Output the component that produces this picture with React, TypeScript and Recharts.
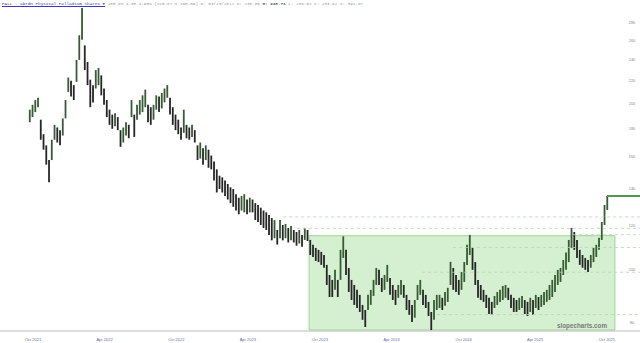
import { Bar, BarChart, Cell, ReferenceArea, ReferenceLine, XAxis, YAxis } from "recharts";

// weekly bars, week 0 = first week of Oct 2021
const FIRST_WEEK = -1;

const LOWS = [
  185, 189, 193, 197, 172, 165, 155, 144, 158, 172,
  170, 168, 175, 188, 210, 206, 203, 219, 240, 261,
  230, 216, 197, 201, 213, 216, 207, 199, 189, 183,
  180, 182, 179, 167, 170, 175, 173, 189, 174, 187,
  191, 193, 197, 185, 183, 187, 195, 193, 196, 201,
  205, 191, 183, 179, 176, 172, 177, 173, 172, 174,
  170, 158, 159, 155, 158, 153, 152, 145, 138, 140,
  138, 136, 134, 132, 130, 128, 126, 128, 127, 126,
  127, 127, 123, 122, 120.5, 119, 118, 115.6, 113, 114,
  111, 114, 113, 114, 112, 113, 112, 110.5, 111.5, 110,
  113.2, 112.7, 106.3, 105.4, 103.7, 103.2, 102, 100.8, 93.8, 89.2,
  89.2, 91.9, 89.2, 95.8, 105, 97.8, 91.1, 88.1, 86.3, 85.2,
  83.8, 81.1, 78.7, 84.5, 86.3, 89.6, 93.8, 93.8, 91.1, 91.9,
  95, 90, 88.1, 86.3, 88.9, 90, 88.9, 84.5, 82.8, 80.4,
  81.8, 88.1, 90, 86.3, 85.2, 82.4, 77.7, 81.1, 84.5, 85.2,
  84.5, 86, 87.4, 93.8, 91.9, 91.1, 90, 91.9, 95, 102,
  106.3, 99.9, 93.8, 88.9, 88.1, 87.4, 85.2, 83.1, 82.8, 85.2,
  86.3, 87.4, 88.1, 88.9, 88.1, 85.2, 83.8, 83.8, 84.5, 85.2,
  83.1, 82.4, 83.8, 82.8, 85.2, 84.5, 85.6, 86.3, 87.4, 88.1,
  89.2, 91.1, 93.8, 95, 97.8, 99.9, 103.2, 109.5, 108.6, 105,
  102, 100.8, 99.9, 99, 100.8, 103.2, 105.4, 108.6, 113.2, 120.5,
  128.3,
];

const HIGHS = [
  195, 199, 203, 205, 187, 176, 168, 158, 172, 183,
  181, 179, 188, 203, 223, 220, 216, 240, 266, 298,
  255, 238, 221, 216, 230, 232, 225, 213, 203, 195,
  191, 192, 189, 179, 181, 185, 183, 203, 191, 199,
  203, 207, 212, 199, 197, 199, 207, 206, 209, 213,
  216, 205, 197, 191, 187, 181, 195, 183, 181, 183,
  179, 168, 170, 166, 168, 165, 161, 157, 152, 148,
  147, 145, 143, 141, 140, 137, 135, 136, 137, 134,
  135, 134, 132, 131, 129.5, 128, 127, 125.6, 124, 123,
  118, 123, 120.5, 121, 119, 120, 118, 117, 118, 115.6,
  119, 118, 113.2, 110.9, 109.5, 108.6, 107.7, 106.3, 102, 97.8,
  95.8, 99.9, 95.8, 108.6, 114.9, 108.6, 100.7, 95.8, 93.8, 91.9,
  90, 86.3, 84.5, 90, 91.9, 95.8, 100.7, 99.9, 96.6, 97.8,
  102, 96.6, 93.8, 91.9, 93.8, 95.8, 93.8, 90, 88.1, 86.3,
  88.1, 93.8, 95.8, 91.9, 90, 87.4, 83.8, 88.1, 90, 90,
  88.9, 91.1, 92.7, 103.3, 100.7, 97.8, 95.8, 99, 103.2, 110.9,
  115.6, 109.5, 103.2, 95.8, 93.8, 91.9, 90, 88.9, 87.4, 89.6,
  91.1, 91.9, 93.4, 93.8, 92.7, 90, 88.9, 88.1, 88.9, 89.6,
  88.1, 87.4, 88.9, 88.1, 90, 89.2, 90, 91.1, 91.9, 93.8,
  95.8, 97.8, 99.9, 100.7, 104.1, 107.4, 113.2, 119, 117, 113.2,
  108.6, 106.3, 105, 104.1, 106.3, 109.5, 110.9, 114.2, 122, 131,
  136,
];

const TICK_WEEKS = [0, 26, 52.1, 78.1, 104.3, 130.4, 156.6, 182.6, 208.7];
const TICK_LABELS = [
  "Oct 2021", "Apr 2022", "Oct 2022", "Apr 2023", "Oct 2023",
  "Apr 2024", "Oct 2024", "Apr 2025", "Oct 2025",
];
const PRICE_TICKS = [80, 100, 120, 140, 160, 180, 200, 220, 240, 260, 280];

// drawn levels: price, first week
const LEVEL_PRICES = [124.6, 118.8, 115.7, 109.7, 98.9, 82.9];
const LEVEL_STARTS = [91, 96, 196.4, 152.7, 141.5, 146.9];
const BREAKOUT_PRICE = 136;
const BREAKOUT_START = 208.7;

const ZONE_WEEKS = [100.4, 211.6];
const ZONE_PRICES = [77.7, 115.2];

const X_DOMAIN: [number, number] = [-12, 220.73];
const Y_DOMAIN: [number, number] = [77.4, 308.2];

const data = LOWS.map((low, i) => {
  const high = HIGHS[i];
  const mid = (low + high) / 2;
  const prevMid = i > 0 ? (LOWS[i - 1] + HIGHS[i - 1]) / 2 : mid;
  return { week: FIRST_WEEK + i, range: [low, high], up: mid >= prevMid };
});

const mono = "'Liberation Mono', 'DejaVu Sans Mono', monospace";

function PriceTick({ y, payload }: any) {
  return (
    <text x={632} y={y} dy={1.4} textAnchor="middle" fontSize={4} fill="#8a8a8a" fontFamily="'Liberation Sans', Arial">
      {payload.value}
    </text>
  );
}

function DateTick({ x, y, payload }: any) {
  const idx = TICK_WEEKS.indexOf(payload.value);
  return (
    <text x={x} y={y + 2} textAnchor="middle" fontSize={4} fill="#6a6ab0" fontFamily="'Liberation Sans', Arial">
      {TICK_LABELS[idx] ?? ""}
    </text>
  );
}

export default function App() {
  return (
    <div style={{ position: "absolute", left: 0, top: 0, width: 640, height: 343, background: "#fff" }}>
      <BarChart width={640} height={343} data={data} margin={{ top: 0, right: 0, bottom: 0, left: 0 }}>
        <XAxis
          type="number"
          dataKey="week"
          domain={X_DOMAIN}
          allowDataOverflow
          ticks={TICK_WEEKS}
          tick={<DateTick />}
          tickLine={false}
          axisLine={{ stroke: "#bdbdbd" }}
          height={12}
        />
        <YAxis
          orientation="right"
          mirror
          scale="log"
          domain={Y_DOMAIN}
          allowDataOverflow
          ticks={PRICE_TICKS}
          interval={0}
          tick={<PriceTick />}
          tickLine={false}
          axisLine={false}
          width={24}
        />
        <ReferenceArea
          x1={ZONE_WEEKS[0]}
          x2={ZONE_WEEKS[1]}
          y1={ZONE_PRICES[0]}
          y2={ZONE_PRICES[1]}
          fill="#d5f0d0"
          fillOpacity={1}
          stroke="#9cd496"
          strokeWidth={1}
        />
        {LEVEL_PRICES.map((p, i) => (
          <ReferenceLine
            key={p}
            segment={[
              { x: LEVEL_STARTS[i], y: p },
              { x: X_DOMAIN[1], y: p },
            ]}
            stroke="#b4d6ae"
            strokeDasharray="3 3"
            strokeWidth={0.8}
          />
        ))}
        <ReferenceLine
          segment={[
            { x: BREAKOUT_START, y: BREAKOUT_PRICE },
            { x: X_DOMAIN[1], y: BREAKOUT_PRICE },
          ]}
          stroke="#4f9a4a"
          strokeWidth={2}
        />
        <Bar dataKey="range" barSize={1.8} isAnimationActive={false}>
          {data.map((d) => (
            <Cell key={d.week} fill={d.up ? "#355c32" : "#262626"} />
          ))}
        </Bar>
      </BarChart>

      <div
        style={{
          position: "absolute",
          left: 2,
          top: 1,
          fontFamily: mono,
          fontSize: 4.3,
          lineHeight: "6px",
          whiteSpace: "nowrap",
          color: "#9a9a9a",
        }}
      >
        <span style={{ color: "#3b3bb8", textDecoration: "underline" }}>PALL - abrdn Physical Palladium Shares E</span>{" "}
        105.88 4.35 4.90% (115.87 x 105.09) D: 03/23/2022 O: 238.00 <b style={{ color: "#555" }}>H: 238.73</b> L:
        236.02 C: 233.92 V: 391.87
      </div>

      <div
        style={{
          position: "absolute",
          left: 557,
          top: 322,
          fontFamily: "'Liberation Sans', Arial, sans-serif",
          fontWeight: "bold",
          fontSize: 6.3,
          color: "#7a7a7a",
          whiteSpace: "nowrap",
        }}
      >
        slopecharts.com
      </div>
    </div>
  );
}
